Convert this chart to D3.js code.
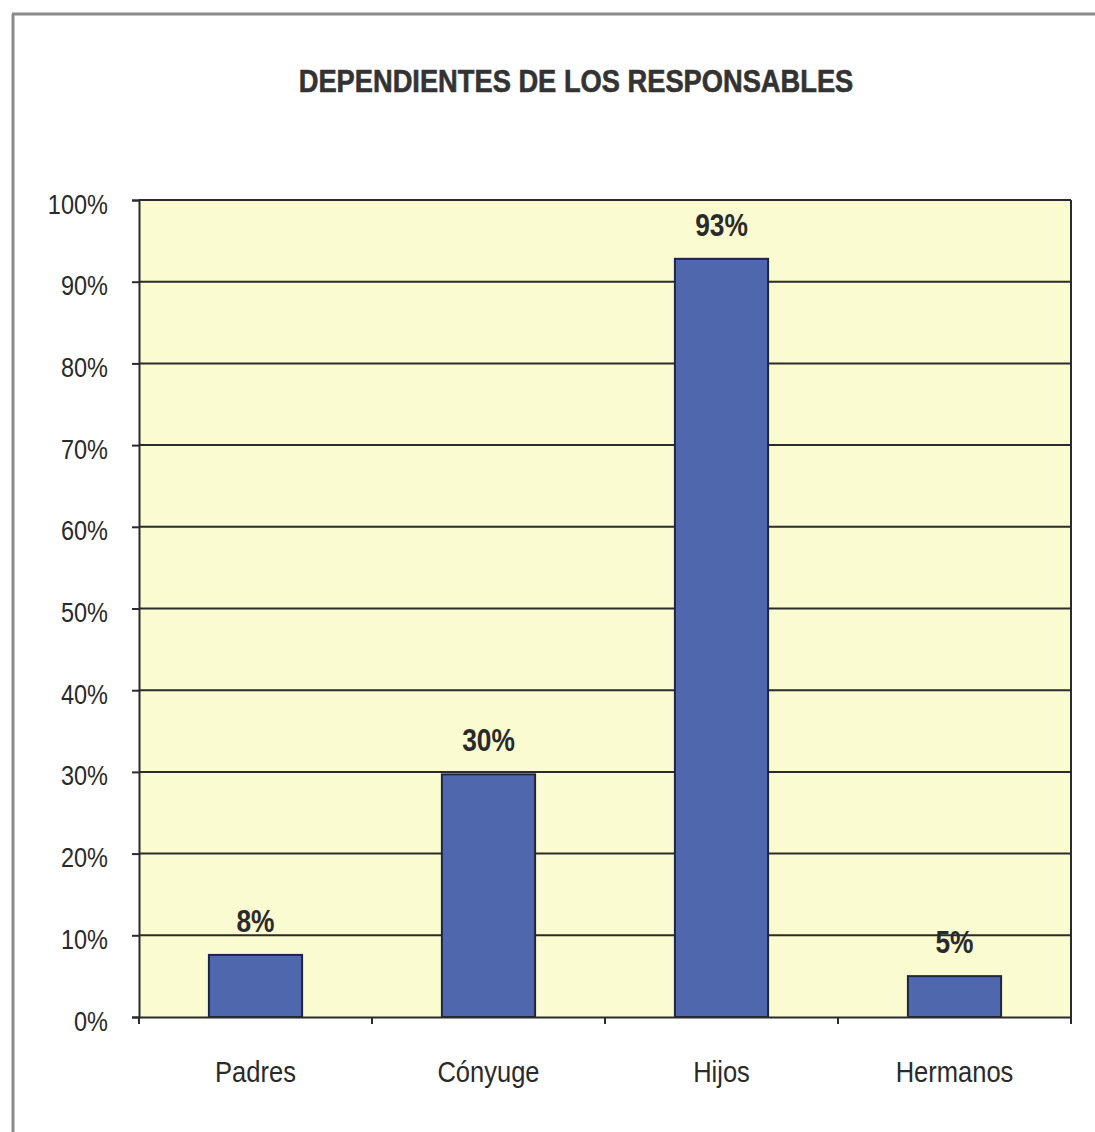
<!DOCTYPE html>
<html>
<head>
<meta charset="utf-8">
<script src="https://cdn.jsdelivr.net/npm/d3@7"></script>
<style>
  body { margin: 0; background: #fff; }
</style>
</head>
<body>
<svg id="chart"></svg>
<script>
var categories = ["Padres", "Cónyuge", "Hijos", "Hermanos"];
var values = [0.076, 0.297, 0.928, 0.05];
var yTicks = [0, 0.1, 0.2, 0.3, 0.4, 0.5, 0.6, 0.7, 0.8, 0.9, 1];
var title = "DEPENDIENTES DE LOS RESPONSABLES";

var W = 1095, H = 1132;
var plot = { left: 139, right: 1071, top: 200, bottom: 1017 };
var font = "'Liberation Sans', Arial, sans-serif";

var svg = d3.select("#chart")
  .attr("width", W)
  .attr("height", H);

// outer frame (top + left edge only visible)
svg.append("line")
  .attr("x1", 12).attr("x2", W).attr("y1", 14).attr("y2", 14)
  .attr("stroke", "#8a8a8a").attr("stroke-width", 3);
svg.append("line")
  .attr("x1", 13).attr("x2", 13).attr("y1", 14).attr("y2", H)
  .attr("stroke", "#8a8a8a").attr("stroke-width", 3);

// title (heavy, slightly condensed)
var tScale = 0.88;
svg.append("text")
  .attr("transform", "translate(576,92) scale(" + tScale + ",1)")
  .attr("text-anchor", "middle")
  .attr("font-family", font)
  .attr("font-weight", "bold")
  .attr("font-size", 31)
  .attr("fill", "#333")
  .attr("stroke", "#333")
  .attr("stroke-width", 0.6)
  .text(title);

var x = d3.scaleBand()
  .domain(categories)
  .range([plot.left, plot.right])
  .paddingInner(0.6)
  .paddingOuter(0.3);

var y = d3.scaleLinear()
  .domain([0, 1])
  .range([plot.bottom, plot.top]);

// plot background
svg.append("rect")
  .attr("x", plot.left).attr("y", plot.top)
  .attr("width", plot.right - plot.left)
  .attr("height", plot.bottom - plot.top)
  .attr("fill", "#fbfbd2");

// gridlines
svg.append("g")
  .selectAll("line")
  .data(yTicks.filter(function (d) { return d > 0; }))
  .enter()
  .append("line")
  .attr("x1", plot.left).attr("x2", plot.right)
  .attr("y1", function (d) { return y(d); })
  .attr("y2", function (d) { return y(d); })
  .attr("stroke", "#2b2b2b")
  .attr("stroke-width", 2);

// right border of plot
svg.append("line")
  .attr("x1", plot.right).attr("x2", plot.right)
  .attr("y1", plot.top).attr("y2", plot.bottom)
  .attr("stroke", "#2b2b2b").attr("stroke-width", 2);

// bars
svg.append("g")
  .selectAll("rect")
  .data(values)
  .enter()
  .append("rect")
  .attr("x", function (d, i) { return x(categories[i]); })
  .attr("y", function (d) { return y(d); })
  .attr("width", x.bandwidth())
  .attr("height", function (d) { return y(0) - y(d); })
  .attr("fill", "#4f67ad")
  .attr("stroke", "#1f2440")
  .attr("stroke-width", 2);

// value labels
var fmt = d3.format(".0%");
var vScale = 0.85;
svg.append("g")
  .selectAll("text")
  .data(values)
  .enter()
  .append("text")
  .attr("transform", function (d, i) {
    return "translate(" + (x(categories[i]) + x.bandwidth() / 2) + "," + (y(d) - 23) + ") scale(" + vScale + ",1)";
  })
  .attr("text-anchor", "middle")
  .attr("font-family", font)
  .attr("font-weight", "bold")
  .attr("font-size", 31)
  .attr("fill", "#2a2a2a")
  .text(function (d) { return fmt(d); });

// Y axis
var yScaleX = 0.84;
var yAxis = d3.axisLeft(y)
  .tickValues(yTicks)
  .tickFormat(d3.format(".0%"))
  .tickSize(7);
var gy = svg.append("g")
  .attr("transform", "translate(" + plot.left + ",0)")
  .call(yAxis);
gy.select(".domain").attr("stroke", "#2b2b2b").attr("stroke-width", 2);
gy.selectAll(".tick line").attr("stroke", "#2b2b2b").attr("stroke-width", 2);
gy.selectAll(".tick text")
  .attr("font-family", font)
  .attr("font-size", 28)
  .attr("fill", "#2a2a2a")
  .attr("dy", null)
  .attr("y", 13)
  .attr("x", -31 / yScaleX)
  .attr("transform", "scale(" + yScaleX + ",1)");

// X axis
var xScaleX = 0.88;
var xAxis = d3.axisBottom(x)
  .tickSize(0);
var gx = svg.append("g")
  .attr("transform", "translate(0," + plot.bottom + ")")
  .call(xAxis);
gx.select(".domain").attr("stroke", "#2b2b2b").attr("stroke-width", 2);
gx.selectAll(".tick text")
  .attr("font-family", font)
  .attr("font-size", 29)
  .attr("fill", "#2a2a2a")
  .attr("dy", null)
  .attr("y", 65)
  .attr("transform", "scale(" + xScaleX + ",1)");

// category separator ticks
var step = x.step();
gx.append("g")
  .selectAll("line")
  .data(d3.range(categories.length + 1))
  .enter()
  .append("line")
  .attr("x1", function (i) { return plot.left + i * step; })
  .attr("x2", function (i) { return plot.left + i * step; })
  .attr("y1", 0).attr("y2", 7)
  .attr("stroke", "#2b2b2b").attr("stroke-width", 2);
</script>
</body>
</html>
